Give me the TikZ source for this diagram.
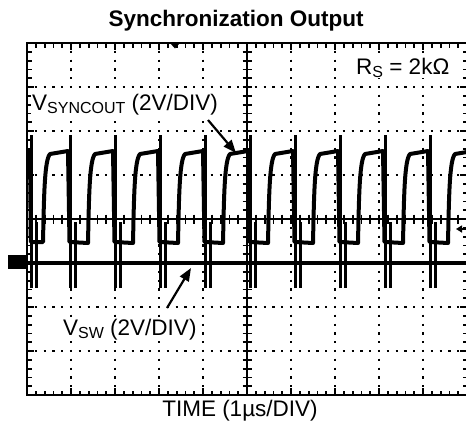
\documentclass[tikz,border=0pt]{standalone}
\usepackage{fontspec}
\setmainfont{Liberation Sans}
\usetikzlibrary{arrows.meta}
\newcommand{\sbs}[1]{\raisebox{-0.3ex}{\fontsize{16}{16}\selectfont #1}}
\begin{document}
\begin{tikzpicture}[x=1pt,y=-1pt,
  lbl/.style={inner sep=0pt, font=\fontsize{22.5}{26}\selectfont},
  grid dots/.style={line width=2.2pt, dash pattern=on 2.2pt off 6.6pt, dash phase=1.1pt},
  axis/.style={line width=2.2pt},
  tick/.style={line width=1.8pt},
  trace/.style={line width=4pt, line join=round},
  spike/.style={line width=2.6pt},
  pointer/.style={line width=2.2pt, -{Triangle[length=13pt,width=10pt]}}]
\useasboundingbox (0,0) rectangle (466,429);
\begin{scope}
\clip (0,0) rectangle (466,429);
% dotted graticule
\foreach \i in {1,2,3,4,6,7,8,9} \draw[grid dots] ({27+44*\i},43) -- ({27+44*\i},395);
\foreach \j in {1,2,3,5,6,7} \draw[grid dots] (27,{43+44*\j}) -- (467,{43+44*\j});
% border
\draw[axis] (27,43) rectangle (467,395);
% border ticks
\foreach \i in {1,...,49} {
  \pgfmathsetmacro{\tl}{ifthenelse(mod(\i,5)==0,7,4.5)}
  \draw[tick] ({27+8.8*\i},43) -- ++(0,\tl);
  \draw[tick] ({27+8.8*\i},395) -- ++(0,-\tl);
}
\foreach \j in {1,...,39} {
  \pgfmathsetmacro{\tl}{ifthenelse(mod(\j,5)==0,7,4.5)}
  \draw[tick] (27,{43+8.8*\j}) -- ++(\tl,0);
  \draw[tick] (467,{43+8.8*\j}) -- ++(-\tl,0);
}
% centre axes
\draw[axis] (247,43) -- (247,395);
\draw[axis] (27,219) -- (467,219);
\foreach \j in {1,...,39} \draw[tick] (242.5,{43+8.8*\j}) -- (251.5,{43+8.8*\j});
\foreach \i in {1,...,49} \draw[tick] ({27+8.8*\i},214.5) -- ({27+8.8*\i},223.5);
% V_SW trace
\draw[trace] (27,263) -- (466,263);
\foreach \xf in {30,69,114,159,204,249,294,339,384,429} {
  \draw[spike] ({\xf+1.5},288) -- ({\xf+1.5},135);
  \draw[spike] ({\xf+6.5},222) -- ({\xf+6.5},288);
}
% V_SYNCOUT trace
\draw[trace] (27,151) -- (30,151) -- (30.8,242) -- (43,242)
  \foreach \k in {0,...,9} {
    .. controls ({69+45*\k-26+1},195) and ({69+45*\k-26+1.5},160) .. ({69+45*\k-26+7},154)
    -- ({69+45*\k-1},151) -- ({69+45*\k+0.5},242) -- ({69+45*\k+19},243)
  };
% ground markers
\fill (8,255) rectangle (27,269);
\coordinate (gm1) at (466,229);
\coordinate (gm2) at (456,229);
\draw[line width=2pt, -{Triangle[length=6pt,width=7pt]}] (gm1) -- (gm2);
\fill (170,43) -- (180,43) -- (175,48.5) -- cycle;
\end{scope}
% labels
\node[inner sep=0pt, anchor=base, font=\fontsize{22.5}{26}\bfseries\selectfont] (title) at (236,26) {Synchronization Output};
\node[lbl, anchor=base west, fill=white, inner xsep=1pt] (rs) at (355,74) {R\sbs{S} = 2kΩ};
\node[lbl, anchor=base west, fill=white, inner xsep=1pt] (vsync) at (31,110) {V\sbs{SYNCOUT} (2V/DIV)};
\node[lbl, anchor=base west, fill=white, inner xsep=1pt] (vsw) at (62,335) {V\sbs{SW} (2V/DIV)};
\node[lbl, anchor=base] (time) at (240,416) {TIME (1µs/DIV)};
% pointers
\coordinate (p1s) at (208,120);
\coordinate (p1e) at (236,153);
\coordinate (p2s) at (167,308);
\coordinate (p2e) at (191,268);
\draw[pointer] (p1s) -- (p1e);
\draw[pointer] (p2s) -- (p2e);
\end{tikzpicture}
\end{document}
